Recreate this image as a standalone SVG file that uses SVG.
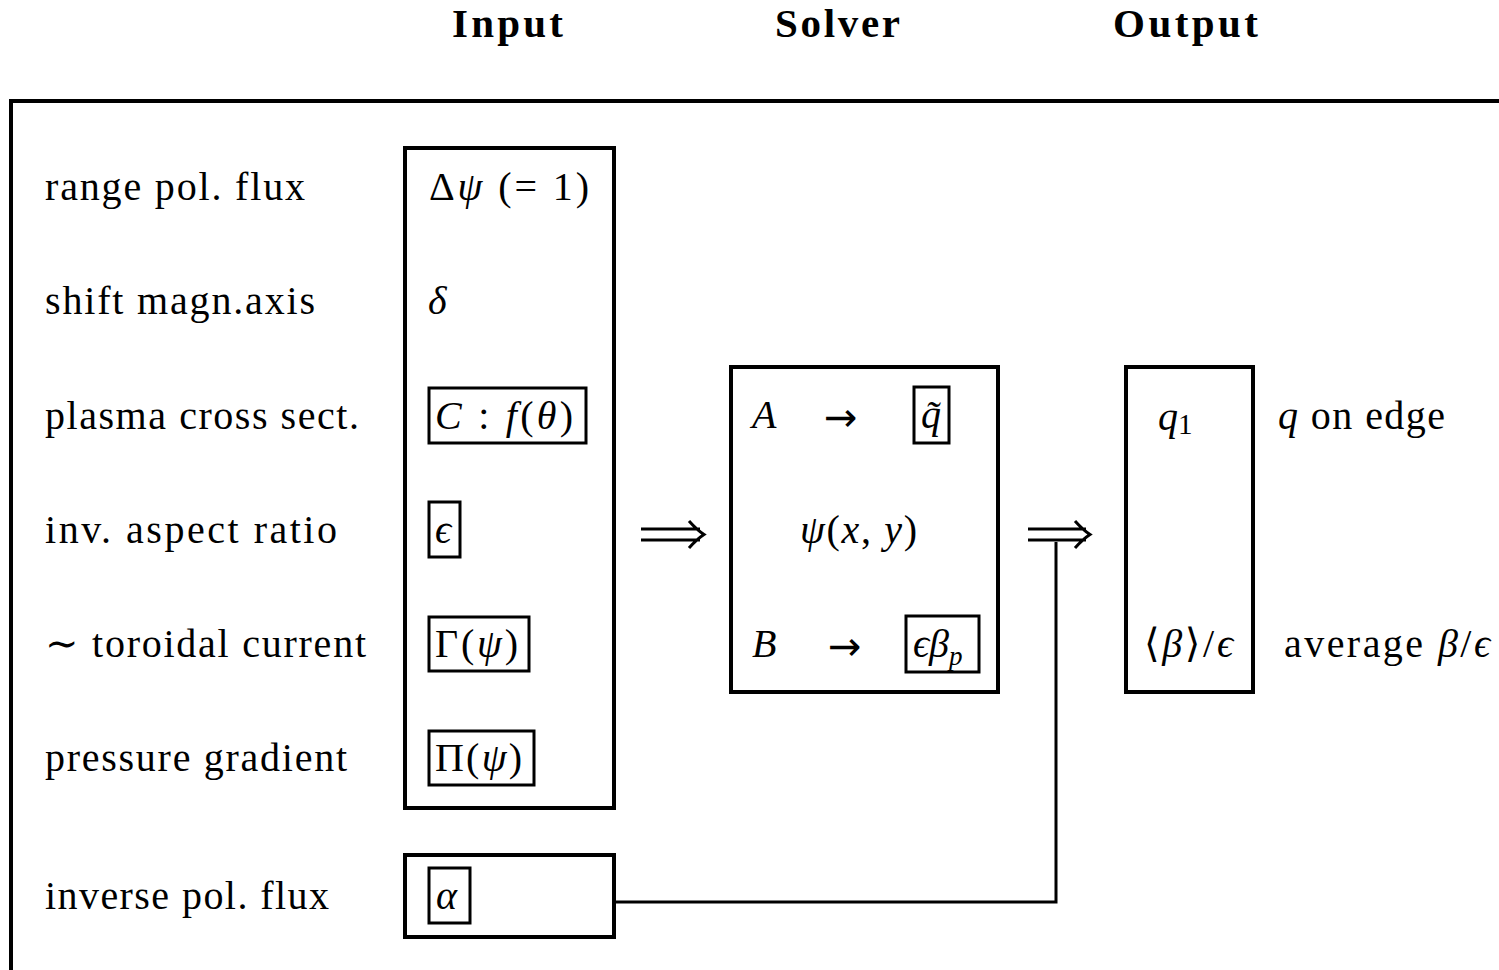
<svg xmlns="http://www.w3.org/2000/svg" width="1499" height="970" viewBox="0 0 1499 970">
<style>
text{font-family:"Liberation Serif","DejaVu Serif",serif;font-size:40px;fill:#000}
.t{font-weight:bold;font-size:41px}
.m{font-style:italic}
.ar{font-family:"DejaVu Sans",sans-serif;font-size:40px}
.big{fill:none;stroke:#000;stroke-width:4}
.sm{fill:none;stroke:#000;stroke-width:3}
.ln{fill:none;stroke:#000;stroke-width:3}
</style>
<rect width="1499" height="970" fill="#fff"/>
<g id="frame">
<path class="big" d="M1499,101 H11 V970"/>
</g>
<g id="titles">
<text class="t" x="452" y="37" textLength="111">Input</text>
<text class="t" x="775" y="37" textLength="125">Solver</text>
<text class="t" x="1113" y="37" textLength="145">Output</text>
</g>
<g id="labels">
<text x="45" y="200" textLength="260">range pol. flux</text>
<text x="45" y="314" textLength="270">shift magn.axis</text>
<text x="45" y="429" textLength="314">plasma cross sect.</text>
<text x="45" y="543" textLength="292">inv. aspect ratio</text>
<text x="45" y="657" textLength="321">∼ toroidal current</text>
<text x="45" y="771" textLength="302">pressure gradient</text>
<text x="45" y="909" textLength="284">inverse pol. flux</text>
</g>
<g id="input">
<rect class="big" x="405" y="148" width="209" height="660"/>
<text x="429" y="200" textLength="160">Δ<tspan class="m">ψ</tspan> (= 1)</text>
<text class="m" x="428" y="314">δ</text>
<rect class="sm" x="429" y="388" width="157" height="55"/>
<text x="435" y="429" textLength="138"><tspan class="m">C</tspan> : <tspan class="m">f</tspan>(<tspan class="m">θ</tspan>)</text>
<rect class="sm" x="429" y="502" width="31" height="55"/>
<text class="m" x="435" y="543">ϵ</text>
<rect class="sm" x="429" y="617" width="100" height="54"/>
<text x="435" y="657" textLength="83">Γ(<tspan class="m">ψ</tspan>)</text>
<rect class="sm" x="429" y="731" width="105" height="54"/>
<text x="435" y="771" textLength="87">Π(<tspan class="m">ψ</tspan>)</text>
</g>
<g id="alpha">
<rect class="big" x="405" y="855" width="209" height="82"/>
<rect class="sm" x="429" y="868" width="41" height="55"/>
<text class="m" x="436" y="909">α</text>
</g>
<g id="solver">
<rect class="big" x="731" y="367" width="267" height="325"/>
<text class="m" x="752" y="428">A</text>
<text class="ar" x="824" y="431">→</text>
<rect class="sm" x="914" y="387" width="35" height="56"/>
<text class="m" x="921" y="428">q̃</text>
<text x="800" y="543" textLength="117"><tspan class="m">ψ</tspan>(<tspan class="m">x</tspan>, <tspan class="m">y</tspan>)</text>
<text class="m" x="752" y="657">B</text>
<text class="ar" x="828" y="660">→</text>
<rect class="sm" x="906" y="616" width="73" height="56"/>
<text class="m" x="913" y="657">ϵβ<tspan font-size="27" dy="8">p</tspan></text>
</g>
<g id="output">
<rect class="big" x="1126" y="367" width="127" height="325"/>
<text x="1158" y="430"><tspan class="m">q</tspan><tspan font-size="29" dy="4">1</tspan></text>
<text x="1144" y="657" textLength="89">⟨<tspan class="m">β</tspan>⟩/<tspan class="m">ϵ</tspan></text>
<text x="1278" y="429" textLength="167"><tspan class="m">q</tspan> on edge</text>
<text x="1284" y="657" textLength="206">average <tspan class="m">β</tspan>/<tspan class="m">ϵ</tspan></text>
</g>
<g id="connectors">
<path class="ln" d="M641,529 H700 M641,540 H700 M689,521 Q697,530 704,534.5 Q697,539 689,548"/>
<path class="ln" d="M1028,529 H1086 M1028,540 H1086 M1075,521 Q1083,530 1090,534.5 Q1083,539 1075,548"/>
<path class="ln" d="M614,902 H1056 V542"/>
</g>
</svg>
